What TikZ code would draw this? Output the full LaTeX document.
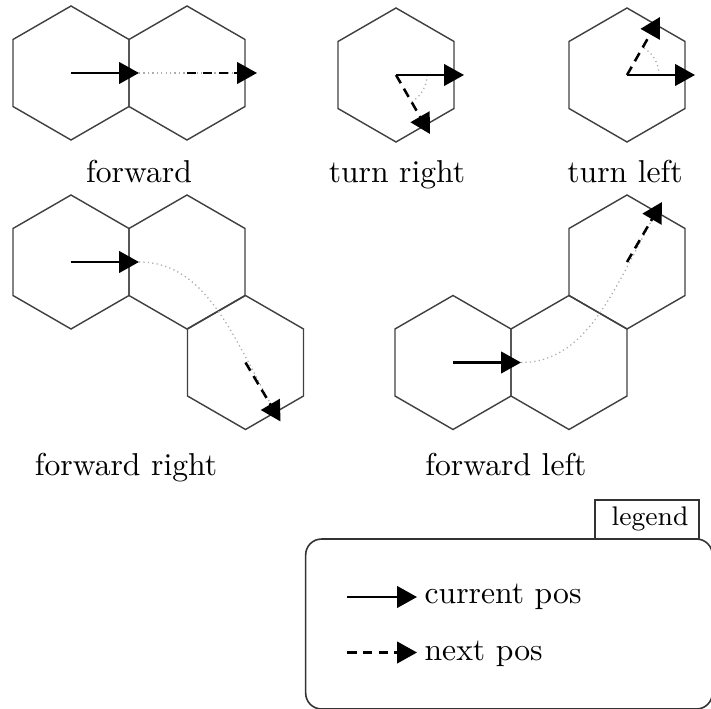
\documentclass[tikz,border=0pt]{standalone}
\usetikzlibrary{shapes.geometric,arrows.meta,calc}
\begin{document}
\begin{tikzpicture}[x=0.316pt,y=-0.316pt,
  hexcell/.style={draw=black!75,line width=0.45pt,regular polygon,regular polygon sides=6,
    shape border rotate=30,minimum size=42.34pt,inner sep=0pt,outer sep=0pt},
  curarrow/.style={line width=0.8pt,-{Triangle[length=6.3pt,width=6.8pt]}},
  nextarrow/.style={line width=0.8pt,dash pattern=on 3pt off 2pt,-{Triangle[length=6.3pt,width=6.8pt]}},
  pathline/.style={gray!65,line width=0.4pt,densely dotted},
  caption/.style={anchor=base,inner sep=0pt,font=\fontsize{10}{12}\selectfont},
  legtext/.style={anchor=base west,inner sep=0pt,font=\fontsize{10}{12}\selectfont}]
\useasboundingbox (0,0) rectangle (711,709);

% ---------- forward ----------
\node[hexcell] (fa) at (71,73) {};
\node[hexcell] (fb) at (187,73) {};
\coordinate (fc) at ($(fa.center)+(68,0)$);
\coordinate (fn) at ($(fb.center)+(70,0)$);
\draw[pathline] (fc) -- (fn);
\draw[curarrow] (fa.center) -- (fc);
\draw[nextarrow] (fb.center) -- (fn);
\node[caption] (lf) at (139,182.5) {forward};

% ---------- turn right ----------
\node[hexcell] (tr) at (396,75) {};
\coordinate (trc) at ($(tr.center)+(68,0)$);
\coordinate (trn) at ($(tr.center)+(34,59)$);
\draw[pathline] ($(tr.center)+(31,0)$) arc[start angle=0,end angle=-60,radius=9.8pt];
\draw[curarrow] (tr.center) -- (trc);
\draw[nextarrow] (tr.center) -- (trn);
\node[caption] (ltr) at (397,182.5) {turn right};

% ---------- turn left ----------
\node[hexcell] (tl) at (627,75) {};
\coordinate (tlc) at ($(tl.center)+(68,0)$);
\coordinate (tln) at ($(tl.center)+(33,-58)$);
\draw[pathline] ($(tl.center)+(32,0)$) arc[start angle=0,end angle=60,radius=10.1pt];
\draw[curarrow] (tl.center) -- (tlc);
\draw[nextarrow] (tl.center) -- (tln);
\node[caption] (ltl) at (625,182.5) {turn left};

% ---------- forward right ----------
\node[hexcell] (ra) at (71,262) {};
\node[hexcell] (rb) at (187,262) {};
\node[hexcell] (rc) at (245.5,362.5) {};
\coordinate (rcur) at ($(ra.center)+(68,0)$);
\coordinate (rnext) at ($(rc.center)+(35,59)$);
\draw[pathline] (rcur) .. controls +(70,0) and +(-45,-78) .. (rnext);
\draw[curarrow] (ra.center) -- (rcur);
\draw[nextarrow] (rc.center) -- (rnext);
\node[caption] (lfr) at (126,475) {forward right};

% ---------- forward left ----------
\node[hexcell] (la) at (453,362.5) {};
\node[hexcell] (lb) at (569,362.5) {};
\node[hexcell] (lc) at (627,262) {};
\coordinate (lcur) at ($(la.center)+(68,0)$);
\coordinate (lnext) at ($(lc.center)+(35,-60)$);
\draw[pathline] (lcur) .. controls +(70,0) and +(-45,78) .. (lnext);
\draw[curarrow] (la.center) -- (lcur);
\draw[nextarrow] (lc.center) -- (lnext);
\node[caption] (lfl) at (506,475) {forward left};

% ---------- legend ----------
\node[draw=black!80,line width=0.5pt,rounded corners=5pt,minimum width=128.5pt,minimum height=53.7pt,
  inner sep=0pt] (legbox) at (509,624) {};
\node[draw=black!80,line width=0.5pt,minimum width=32.9pt,minimum height=12.3pt,inner sep=0pt]
  (legtab) at (647,519.5) {};
\node[anchor=base,inner sep=0pt,font=\fontsize{8.5}{10}\selectfont] (legtitle) at (650,525) {legend};
\coordinate (l1s) at (347,597);
\coordinate (l1e) at (417,597);
\coordinate (l2s) at (347,652.5);
\coordinate (l2e) at (417,652.5);
\draw[curarrow] (l1s) -- (l1e);
\draw[nextarrow] (l2s) -- (l2e);
\node[legtext] (lt1) at (424,603) {current pos};
\node[legtext] (lt2) at (424,660) {next pos};
\end{tikzpicture}
\end{document}
